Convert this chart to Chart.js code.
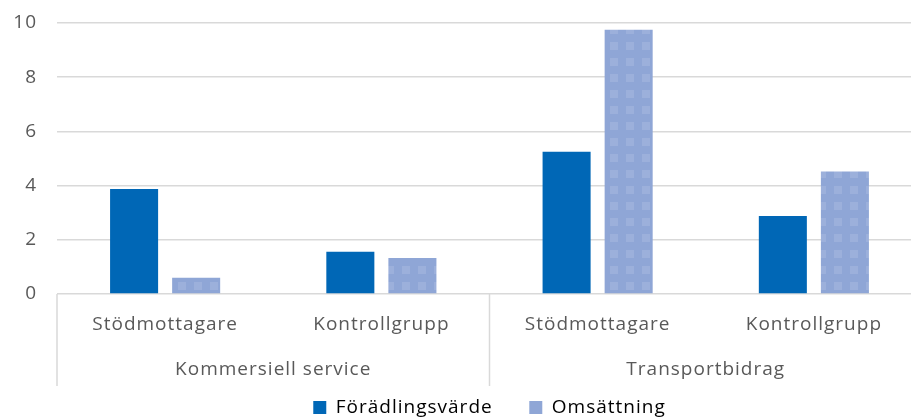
<!DOCTYPE html>
<html>
<head>
<meta charset="utf-8">
<script src="https://cdn.jsdelivr.net/npm/chart.js@4/dist/chart.umd.min.js"></script>
<style>
  html, body { margin: 0; padding: 0; overflow: hidden; background: #fff; }
  #wrap { position: absolute; left: 0; top: 0; width: 922px; height: 417px; }
</style>
</head>
<body>
<div id="wrap"><canvas id="chart"></canvas></div>
<script>
const categories = ["Stödmottagare", "Kontrollgrupp", "Stödmottagare", "Kontrollgrupp"];
const groups = ["Kommersiell service", "Transportbidrag"];
const seriesNames = ["Förädlingsvärde", "Omsättning"];
const foradlingsvarde = [3.87, 1.56, 5.25, 2.88];
const omsattning = [0.6, 1.33, 9.75, 4.52];

const textColor = "#595959";
const gridColor = "#D9D9D9";
const darkBlue = "#0067B6";
const lightBlue = "#8FA6D6";
const fontFamily = "'Open Sans', sans-serif";

// dotted fill for the second series
function makePattern() {
  const c = document.createElement("canvas");
  c.width = 16;
  c.height = 16;
  const p = c.getContext("2d");
  p.fillStyle = lightBlue;
  p.fillRect(0, 0, 16, 16);
  p.fillStyle = "#9CB0DB";
  p.fillRect(2, 10, 8, 6);
  p.fillRect(2, 0, 8, 2);
  return p.createPattern(c, "repeat");
}

const spacing = {
  id: "spacing",
  beforeUpdate(chart) { chart.ctx.letterSpacing = "1px"; },
  beforeDraw(chart) { chart.ctx.letterSpacing = "1px"; }
};

// second row of the category axis + separators
const groupAxis = {
  id: "groupAxis",
  afterDraw(chart) {
    const ctx = chart.ctx;
    const x = chart.scales.x;
    const bottom = chart.chartArea.bottom;
    const bounds = [x.left, (x.getPixelForValue(1) + x.getPixelForValue(2)) / 2, x.right];
    ctx.save();
    ctx.strokeStyle = gridColor;
    ctx.lineWidth = 1.5;
    bounds.forEach(b => {
      ctx.beginPath();
      ctx.moveTo(b, bottom);
      ctx.lineTo(b, bottom + 92);
      ctx.stroke();
    });
    ctx.fillStyle = textColor;
    ctx.font = "19px " + fontFamily;
    ctx.letterSpacing = "1px";
    ctx.textAlign = "center";
    ctx.textBaseline = "middle";
    groups.forEach((g, i) => {
      ctx.fillText(g, (bounds[i] + bounds[i + 1]) / 2, bottom + 76);
    });
    ctx.restore();
  }
};

const ctx = document.getElementById("chart").getContext("2d");
new Chart(ctx, {
  type: "bar",
  data: {
    labels: categories,
    datasets: [
      {
        label: seriesNames[0],
        data: foradlingsvarde,
        backgroundColor: darkBlue,
        categoryPercentage: 0.574,
        barPercentage: 0.774
      },
      {
        label: seriesNames[1],
        data: omsattning,
        backgroundColor: makePattern(),
        categoryPercentage: 0.574,
        barPercentage: 0.774
      }
    ]
  },
  options: {
    responsive: true,
    maintainAspectRatio: false,
    animation: false,
    layout: { padding: { top: 23, right: 0, bottom: -10, left: 0 } },
    plugins: {
      tooltip: { enabled: false },
      legend: {
        position: "bottom",
        fullSize: false,
        labels: {
          color: textColor,
          font: { family: fontFamily, size: 19 },
          boxWidth: 13,
          boxHeight: 13,
          padding: 1,
          generateLabels: (chart) => [
            { text: seriesNames[0] + "      ", fillStyle: darkBlue, strokeStyle: darkBlue, lineWidth: 0, datasetIndex: 0 },
            { text: seriesNames[1], fillStyle: lightBlue, strokeStyle: lightBlue, lineWidth: 0, datasetIndex: 1 }
          ]
        }
      }
    },
    scales: {
      x: {
        grid: { display: false, drawTicks: false },
        border: { display: false },
        ticks: {
          color: textColor,
          font: { family: fontFamily, size: 19 },
          padding: 19,
          maxRotation: 0,
          autoSkip: false
        },
        afterFit: (s) => { s.height = 103; }
      },
      y: {
        min: 0,
        max: 10,
        ticks: {
          stepSize: 2,
          color: textColor,
          font: { family: fontFamily, size: 19 },
          padding: 20
        },
        grid: { color: gridColor, lineWidth: 1.5, drawTicks: false },
        border: { display: false },
        afterFit: (s) => { s.width = 57; s.paddingTop = 0; s.paddingBottom = 0; }
      }
    }
  },
  plugins: [spacing, groupAxis]
});
</script>
</body>
</html>
